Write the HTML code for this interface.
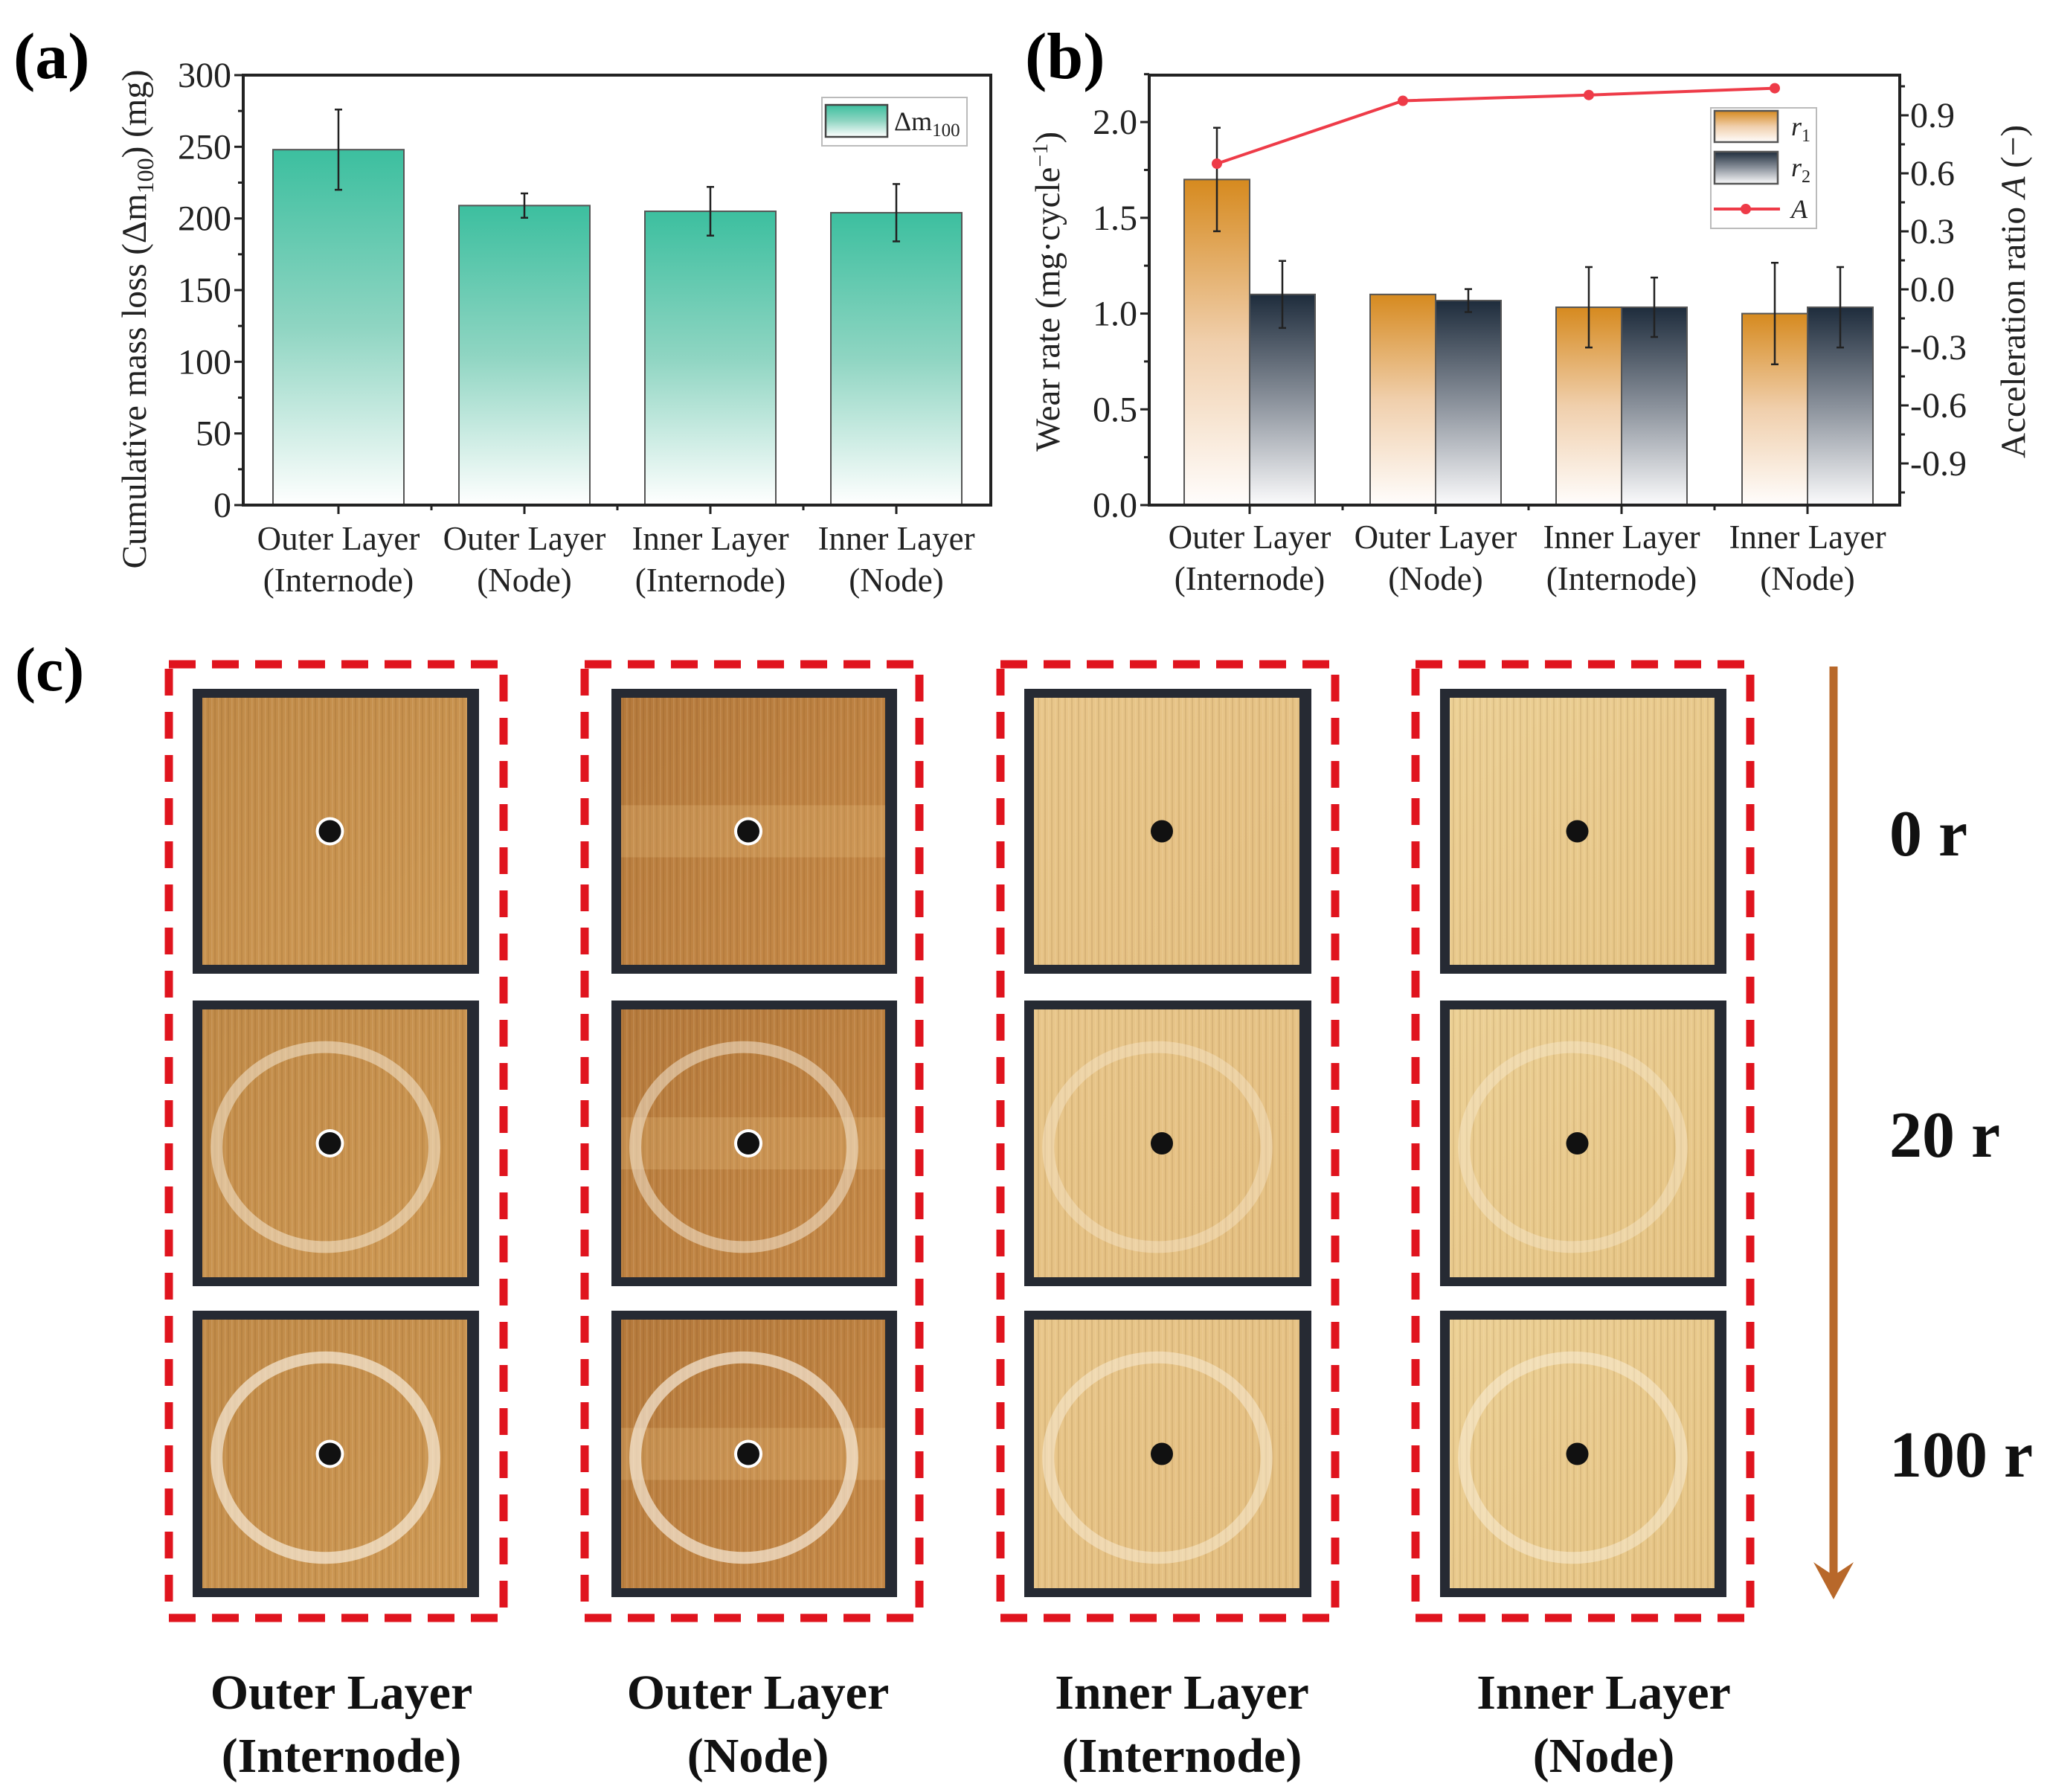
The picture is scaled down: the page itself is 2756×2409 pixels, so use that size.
<!DOCTYPE html>
<html><head><meta charset="utf-8">
<style>
html,body{margin:0;padding:0;background:#fff;}
svg{display:block;font-family:"Liberation Serif",serif;}
</style></head>
<body>
<svg id="fig" width="2756" height="2409" viewBox="0 0 2756 2409" xmlns="http://www.w3.org/2000/svg">
<defs>
<linearGradient id="gTeal" x1="0" y1="0" x2="0" y2="1"><stop offset="0" stop-color="#3cbf9f"/><stop offset="0.5" stop-color="#8fd5c2"/><stop offset="1" stop-color="#ffffff"/></linearGradient>
<linearGradient id="gOrange" x1="0" y1="0" x2="0" y2="1"><stop offset="0" stop-color="#d68a1f"/><stop offset="0.5" stop-color="#f0cfac"/><stop offset="1" stop-color="#fffdfc"/></linearGradient>
<linearGradient id="gDark" x1="0" y1="0" x2="0" y2="1"><stop offset="0" stop-color="#1e2c3c"/><stop offset="0.5" stop-color="#8a919b"/><stop offset="1" stop-color="#fbfbfc"/></linearGradient>
<pattern id="stripes" width="9" height="10" patternUnits="userSpaceOnUse"><rect width="9" height="10" fill="none"/><rect x="0" width="2" height="10" fill="rgba(90,50,10,0.10)"/><rect x="5" width="1.5" height="10" fill="rgba(255,240,210,0.12)"/></pattern>
</defs>
<g id="panelA"></g>
<g id="panelB"></g>
<g id="panelC"></g>
</svg>
<script>
// ---------- data ----------
const categories = [["Outer Layer","(Internode)"],["Outer Layer","(Node)"],["Inner Layer","(Internode)"],["Inner Layer","(Node)"]];
const massLoss = [248, 209, 205, 204];
const massLossErr = [28, 8.5, 17, 20];
const massTicks = [0,50,100,150,200,250,300];
const r1 = [1.70, 1.10, 1.033, 1.00];
const r1Err = [0.27, 0, 0.21, 0.265];
const r2 = [1.10, 1.068, 1.033, 1.033];
const r2Err = [0.175, 0.06, 0.155, 0.21];
const accel = [0.65, 0.975, 1.005, 1.04];
const wearTicks = [0.0,0.5,1.0,1.5,2.0];
const accelTicks = [-0.9,-0.6,-0.3,0.0,0.3,0.6,0.9];
const cycleLabels = ["0 r","20 r","100 r"];

const NS="http://www.w3.org/2000/svg";
function mk(tag, attrs, parent){const e=document.createElementNS(NS,tag);for(const k in attrs)e.setAttribute(k,attrs[k]);parent.appendChild(e);return e;}
function txt(s, attrs, parent){const e=mk('text',attrs,parent);e.textContent=s;return e;}

// ---------- Panel A ----------
(function(){
const g=document.getElementById('panelA');
const L=327,R=1332,T=101,B=679,ymax=300;
const y=v=>B-(v/ymax)*(B-T);
const xc=i=>455+i*250;
let lab=txt('(a)',{x:18,y:105,'font-size':88,'font-weight':'bold'},g);

massLoss.forEach((v,i)=>{
  const b=mk('rect',{x:xc(i)-88,y:y(v),width:176,height:B-y(v),fill:'url(#gTeal)',stroke:'#555',"stroke-width":2},g);
  
  const e=mk('path',{d:`M${xc(i)} ${y(v+massLossErr[i])}V${y(v-massLossErr[i])}M${xc(i)-5} ${y(v+massLossErr[i])}h10M${xc(i)-5} ${y(v-massLossErr[i])}h10`,stroke:'#222','stroke-width':2.5,fill:'none'},g);
  
});
const ax=mk('path',{d:`M${L} ${T}H${R}V${B}H${L}Z`,fill:'none',stroke:'#222','stroke-width':4},g);

massTicks.forEach(t=>{
  mk('line',{x1:L-12,x2:L,y1:y(t),y2:y(t),stroke:'#222','stroke-width':3},g);
  if(t<300) mk('line',{x1:L-7,x2:L,y1:y(t+25),y2:y(t+25),stroke:'#222','stroke-width':3},g);
  const tl=txt(String(t),{x:L-16,y:y(t)+16,'font-size':48,'text-anchor':'end',fill:'#222'},g);
  
});
categories.forEach((c,i)=>{
  mk('line',{x1:xc(i),x2:xc(i),y1:B,y2:B+12,stroke:'#222','stroke-width':3},g);
  if(i<3) mk('line',{x1:xc(i)+125,x2:xc(i)+125,y1:B,y2:B+7,stroke:'#222','stroke-width':3},g);
  const t1=txt(c[0],{x:xc(i),y:739,'font-size':45,'text-anchor':'middle',fill:'#222'},g);
  
  const t2=txt(c[1],{x:xc(i),y:795,'font-size':45,'text-anchor':'middle',fill:'#222'},g);
  
});
const yt=txt('',{transform:'translate(196,429) rotate(-90)','font-size':47,'text-anchor':'middle',fill:'#222'},g);

yt.innerHTML='Cumulative mass loss (Δm<tspan font-size="32" dy="10">100</tspan><tspan dy="-10">) (mg)</tspan>';
const lg=mk('g',{},g);
mk('rect',{x:1105,y:131,width:195,height:65,fill:'#fff',stroke:'#bbb','stroke-width':2},lg);
mk('rect',{x:1110,y:141,width:83,height:43,fill:'url(#gTeal)',stroke:'#444','stroke-width':2.5},lg);
const lt=txt('',{x:1202,y:175,'font-size':36,fill:'#222'},lg);
lt.innerHTML='Δm<tspan font-size="25" dy="8">100</tspan>';
})();

// ---------- Panel B ----------
(function(){
const g=document.getElementById('panelB');
const L=1545,R=2554,T=101,B=679,ymax=2.245;
const y=v=>B-(v/ymax)*(B-T);
const ya=v=>389-v*260;
const xc=i=>1680+i*250;
let lab=txt('(b)',{x:1378,y:105,'font-size':88,'font-weight':'bold'},g);

function err(x,v,e,name){if(!e)return;const p=mk('path',{d:`M${x} ${y(v+e)}V${y(v-e)}M${x-5} ${y(v+e)}h10M${x-5} ${y(v-e)}h10`,stroke:'#222','stroke-width':2.5,fill:'none'},g);}
r1.forEach((v,i)=>{
  const b=mk('rect',{x:xc(i)-88,y:y(v),width:88,height:B-y(v),fill:'url(#gOrange)',stroke:'#555','stroke-width':2},g);
  
});
r2.forEach((v,i)=>{
  const b=mk('rect',{x:xc(i),y:y(v),width:88,height:B-y(v),fill:'url(#gDark)',stroke:'#555','stroke-width':2},g);
  
});
r1.forEach((v,i)=>err(xc(i)-44,v,r1Err[i],'error-bar-r1'));
r2.forEach((v,i)=>err(xc(i)+44,v,r2Err[i],'error-bar-r2'));
const ln=mk('polyline',{points:accel.map((v,i)=>(xc(i)-44)+','+ya(v)).join(' '),fill:'none',stroke:'#ee3b48','stroke-width':4},g);

accel.forEach((v,i)=>{const c=mk('circle',{cx:xc(i)-44,cy:ya(v),r:7,fill:'#ee3b48'},g);});
const ax=mk('path',{d:`M${L} ${T}H${R}V${B}H${L}Z`,fill:'none',stroke:'#222','stroke-width':4},g);

wearTicks.forEach(t=>{
  mk('line',{x1:L-12,x2:L,y1:y(t),y2:y(t),stroke:'#222','stroke-width':3},g);
  mk('line',{x1:L-7,x2:L,y1:y(t+0.25),y2:y(t+0.25),stroke:'#222','stroke-width':3},g);
  const tl=txt(t.toFixed(1),{x:L-16,y:y(t)+16,'font-size':48,'text-anchor':'end',fill:'#222'},g);
  
});
accelTicks.forEach(t=>{
  mk('line',{x1:R,x2:R+12,y1:ya(t),y2:ya(t),stroke:'#222','stroke-width':3},g);
  mk('line',{x1:R,x2:R+7,y1:ya(t-0.15),y2:ya(t-0.15),stroke:'#222','stroke-width':3},g);
  const tl=txt(t.toFixed(1),{x:R+14,y:ya(t)+16,'font-size':48,fill:'#222'},g);
  
});
mk('line',{x1:R,x2:R+7,y1:ya(1.05),y2:ya(1.05),stroke:'#222','stroke-width':3},g);
categories.forEach((c,i)=>{
  mk('line',{x1:xc(i),x2:xc(i),y1:B,y2:B+12,stroke:'#222','stroke-width':3},g);
  if(i<3) mk('line',{x1:xc(i)+125,x2:xc(i)+125,y1:B,y2:B+7,stroke:'#222','stroke-width':3},g);
  const t1=txt(c[0],{x:xc(i),y:737,'font-size':45,'text-anchor':'middle',fill:'#222'},g);
  
  const t2=txt(c[1],{x:xc(i),y:793,'font-size':45,'text-anchor':'middle',fill:'#222'},g);
  
});
const yt=txt('',{transform:'translate(1424,392) rotate(-90)','font-size':47,'text-anchor':'middle',fill:'#222'},g);

yt.innerHTML='Wear rate (mg·cycle<tspan font-size="30" dy="-16">−1</tspan><tspan dy="16">)</tspan>';
const yt2=txt('',{transform:'translate(2722,392) rotate(-90)','font-size':47,'text-anchor':'middle',fill:'#222'},g);

yt2.innerHTML='Acceleration ratio <tspan font-style="italic">A</tspan> (−)';
const lg=mk('g',{},g);
mk('rect',{x:2300,y:145,width:142,height:162,fill:'#fff',stroke:'#bbb','stroke-width':2},lg);
mk('rect',{x:2305,y:149,width:85,height:42,fill:'url(#gOrange)',stroke:'#555','stroke-width':2.5},lg);
mk('rect',{x:2305,y:204,width:85,height:43,fill:'url(#gDark)',stroke:'#555','stroke-width':2.5},lg);
mk('line',{x1:2304,x2:2393,y1:281,y2:281,stroke:'#ee3b48','stroke-width':4},lg);
mk('circle',{cx:2347,cy:281,r:7,fill:'#ee3b48'},lg);
let a=txt('',{x:2408,y:182,'font-size':36,'font-style':'italic',fill:'#222'},lg);a.innerHTML='r<tspan font-size="24" dy="8" font-style="normal">1</tspan>';
a=txt('',{x:2408,y:237,'font-size':36,'font-style':'italic',fill:'#222'},lg);a.innerHTML='r<tspan font-size="24" dy="8" font-style="normal">2</tspan>';
txt('A',{x:2408,y:293,'font-size':36,'font-style':'italic',fill:'#222'},lg);
})();

// ---------- Panel C ----------
(function(){
const g=document.getElementById('panelC');
let lab=txt('(c)',{x:20,y:928,'font-size':84,'font-weight':'bold'},g);

const boxX=[227,786,1345,1903], boxW=[450,450,450,450];
const photoX=[259,822,1377,1936], photoW=[385,384,386,385];
const rowY=[926,1345,1762], rowH=[383,384,385];
const woodTop=['#c08a48','#b57a3c','#e8c68a','#ecd095'];
const woodBot=['#cf9a55','#c68a48','#e4bf80','#e6c484'];
const names=['outer-internode','outer-node','inner-internode','inner-node'];
for(let c=0;c<4;c++){
  const gid='wg'+c;
  const lgd=mk('linearGradient',{id:gid,x1:0,y1:0,x2:1,y2:1},document.querySelector('defs'));
  mk('stop',{offset:0,'stop-color':woodTop[c]},lgd);mk('stop',{offset:1,'stop-color':woodBot[c]},lgd);
  const bx=mk('rect',{x:boxX[c],y:893,width:boxW[c],height:1282,fill:'none',stroke:'#e0141e','stroke-width':11,'stroke-dasharray':'36 22'},g);
  
  for(let r=0;r<3;r++){
    const pg=mk('g',{},g);
    
    
    const X=photoX[c],Y=rowY[r],W=photoW[c],H=rowH[r];
    mk('rect',{x:X,y:Y,width:W,height:H,fill:'#262a33'},pg);
    mk('rect',{x:X+13,y:Y+12,width:W-29,height:H-24,fill:'url(#'+gid+')'},pg);
    mk('rect',{x:X+13,y:Y+12,width:W-29,height:H-24,fill:'url(#stripes)'},pg);
    const cx=X+W/2-8, cy=Y+H/2;
    if(c===1){mk('rect',{x:X+13,y:cy-35,width:W-29,height:70,fill:'rgba(250,215,150,0.2)'},pg);}
    if(r>0){
      const op=c<2?(r===1?0.45:0.6):(r===1?0.3:0.4);
      mk('ellipse',{cx:cx-6,cy:cy+5,rx:W*0.38,ry:H*0.35,fill:'none',stroke:'rgba(255,250,240,'+op+')','stroke-width':16},pg);
    }
    if(c<2) mk('circle',{cx:cx,cy:cy,r:19,fill:'#fff'},pg);
    mk('circle',{cx:cx,cy:cy,r:15,fill:'#111'},pg);
  }
  const t1=txt(categories[c][0],{x:[459,1019,1589,2156][c],y:2297,'font-size':66,'font-weight':'bold','text-anchor':'middle',fill:'#111'},g);
  
  const t2=txt(categories[c][1],{x:[459,1019,1589,2156][c],y:2382,'font-size':66,'font-weight':'bold','text-anchor':'middle',fill:'#111'},g);
  
}
const ar=mk('g',{},g);
mk('line',{x1:2465,x2:2465,y1:896,y2:2120,stroke:'#b8682a','stroke-width':11},ar);
mk('path',{d:'M2438 2100 L2465 2150 L2492 2100 L2465 2118 Z',fill:'#b8682a'},ar);
[1150,1555,1985].forEach((yy,i)=>{const t=txt(cycleLabels[i],{x:2540,y:yy,'font-size':88,'font-weight':'bold',fill:'#111'},g);});
})();
</script>
</body></html>
